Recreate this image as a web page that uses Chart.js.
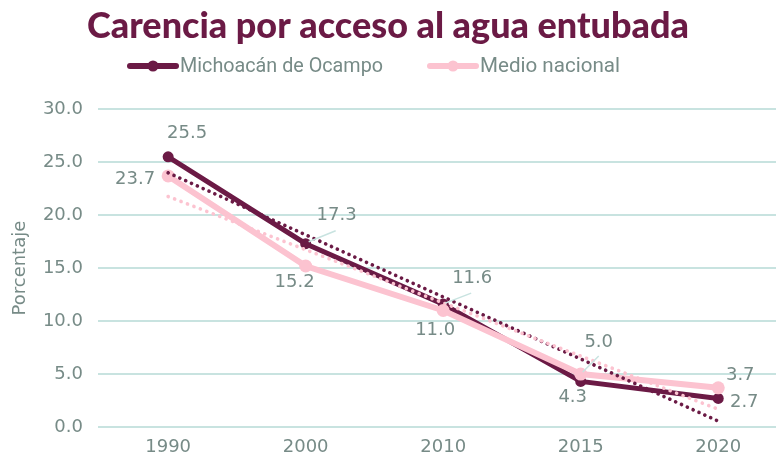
<!DOCTYPE html>
<html>
<head>
<meta charset="utf-8">
<script src="https://cdn.jsdelivr.net/npm/chart.js@4.4.1/dist/chart.umd.min.js"></script>
<style>
  body { margin: 0; background: #fff; }
  #wrap { width: 776px; height: 458px; }
</style>
</head>
<body>
<div id="wrap"><canvas id="chart" width="776" height="458"></canvas></div>
<script>
// ---- data ----
var years = ['1990', '2000', '2010', '2015', '2020']
var michoacan = [25.5, 17.3, 11.6, 4.3, 2.7]
var nacional = [23.7, 15.2, 11.0, 5.0, 3.7]
var seriesNames = ['Michoacán de Ocampo', 'Medio nacional']
var yMin = 0
var yMax = 30
var yStep = 5

// ---- look ----
var maroon = '#6b1a45'
var pink = '#fcc3d0'
var grey = '#778b87'
var gridTeal = '#c8e3e0'
var textFont = 'DejaVu Sans'

// years sit on an index axis so the plot can run past the right edge like the original
function points(values) {
  return values.map(function (v, i) { return { x: i, y: v } })
}

// linear trendline over the category index, like the spreadsheet one
function trend(values) {
  var n = values.length, sx = 0, sy = 0, sxy = 0, sxx = 0
  for (var i = 0; i < n; i++) {
    sx += i; sy += values[i]; sxy += i * values[i]; sxx += i * i
  }
  var slope = (n * sxy - sx * sy) / (n * sxx - sx * sx)
  var icpt = (sy - slope * sx) / n
  return values.map(function (v, i) { return { x: i, y: icpt + slope * i } })
}

// label offsets from the point (px) and optional leader line
var labelPlace = [
  [ { dx: 19, dy: -24 }, { dx: 31, dy: -28, lead: [3, -2, 30, -13] }, { dx: 29, dy: -26, lead: [2, -1, 28, -11] },
    { dx: -8, dy: 16 }, { dx: 26, dy: 4 } ],
  [ { dx: -33, dy: 3 }, { dx: -11, dy: 16 }, { dx: -8, dy: 20 },
    { dx: 18, dy: -32, lead: [2, -2, 18, -18] }, { dx: 22, dy: -12 } ]
]
var labelValues = [michoacan, nacional]

var dataLabels = {
  id: 'dataLabels',
  afterDatasetsDraw: function (chart) {
    var ctx = chart.ctx
    ctx.save()
    ctx.font = '18px "' + textFont + '"'
    ctx.fillStyle = grey
    ctx.textAlign = 'center'
    ctx.textBaseline = 'middle'
    for (var d = 0; d < 2; d++) {
      var meta = chart.getDatasetMeta(d)
      meta.data.forEach(function (pt, i) {
        var p = labelPlace[d][i]
        if (p.lead) {
          ctx.strokeStyle = gridTeal
          ctx.lineWidth = 1.5
          ctx.beginPath()
          ctx.moveTo(pt.x + p.lead[0], pt.y + p.lead[1])
          ctx.lineTo(pt.x + p.lead[2], pt.y + p.lead[3])
          ctx.stroke()
        }
        ctx.fillText(labelValues[d][i].toFixed(1), pt.x + p.dx, pt.y + p.dy)
      })
    }
    ctx.restore()
  }
}

// legend: thick line with a dot, as in the original
var lineLegend = {
  id: 'lineLegend',
  afterDraw: function (chart) {
    var ctx = chart.ctx
    var items = [
      { x: 130, color: maroon, text: seriesNames[0], w: 203 },
      { x: 430, color: pink, text: seriesNames[1], w: 140 }
    ]
    var y = 66
    ctx.save()
    items.forEach(function (it) {
      ctx.strokeStyle = it.color
      ctx.fillStyle = it.color
      ctx.lineWidth = 6
      ctx.lineCap = 'round'
      ctx.beginPath()
      ctx.moveTo(it.x, y)
      ctx.lineTo(it.x + 46, y)
      ctx.stroke()
      ctx.beginPath()
      ctx.arc(it.x + 23, y, 5.5, 0, Math.PI * 2)
      ctx.fill()
      // the original legend font is a narrow one, so squeeze Roboto a bit
      ctx.font = '21px Roboto'
      ctx.fillStyle = grey
      ctx.textAlign = 'left'
      ctx.textBaseline = 'middle'
      var k = it.w / ctx.measureText(it.text).width
      ctx.save()
      ctx.translate(it.x + 50, y + 1)
      ctx.scale(k, 1)
      ctx.fillText(it.text, 0, 0)
      ctx.restore()
    })
    ctx.restore()
  }
}

var ctx = document.getElementById('chart').getContext('2d')
var chart = new Chart(ctx, {
  type: 'line',
  data: {
    datasets: [
      {
        label: seriesNames[0],
        data: points(michoacan),
        borderColor: maroon,
        backgroundColor: maroon,
        borderWidth: 5,
        pointRadius: 5.5,
        pointHoverRadius: 5.5,
        pointBorderWidth: 0,
        order: 4
      },
      {
        label: seriesNames[1],
        data: points(nacional),
        borderColor: pink,
        backgroundColor: pink,
        borderWidth: 6,
        pointRadius: 6.5,
        pointHoverRadius: 6.5,
        pointBorderWidth: 0,
        order: 3
      },
      {
        label: 'Lineal (' + seriesNames[0] + ')',
        data: trend(michoacan),
        borderColor: maroon,
        borderWidth: 3.6,
        borderDash: [0.1, 6.3],
        borderCapStyle: 'round',
        pointRadius: 0,
        order: 2
      },
      {
        label: 'Lineal (' + seriesNames[1] + ')',
        data: trend(nacional),
        borderColor: pink,
        borderWidth: 3.6,
        borderDash: [0.1, 6.8],
        borderCapStyle: 'round',
        pointRadius: 0,
        order: 1
      }
    ]
  },
  options: {
    responsive: false,
    animation: false,
    layout: { padding: 0, autoPadding: false },
    plugins: {
      legend: { display: false },
      tooltip: { enabled: false },
      title: {
        display: true,
        text: 'Carencia por acceso al agua entubada',
        color: maroon,
        font: { family: 'Lato', weight: '900', size: 36 },
        padding: { top: 5, bottom: 61 }
      }
    },
    scales: {
      x: {
        type: 'linear',
        min: -0.51,
        max: 4.42,
        grid: { display: false },
        border: { display: false },
        ticks: {
          color: grey,
          font: { family: textFont, size: 18 },
          padding: 2,
          callback: function (v) { return years[v] }
        },
        afterBuildTicks: function (scale) {
          scale.ticks = years.map(function (y, i) { return { value: i } })
        },
        afterFit: function (scale) { scale.height = 31 }
      },
      y: {
        min: yMin,
        max: yMax,
        border: { display: false },
        grid: { color: gridTeal, lineWidth: 2, drawTicks: false },
        ticks: {
          stepSize: yStep,
          color: grey,
          padding: 15,
          font: { family: textFont, size: 18 },
          callback: function (v) { return v.toFixed(1) }
        },
        title: {
          display: true,
          text: 'Porcentaje',
          color: grey,
          font: { family: textFont, size: 18 },
          padding: { top: 10, bottom: 2 }
        },
        afterFit: function (scale) { scale.width = 98 }
      }
    }
  },
  plugins: [dataLabels, lineLegend]
})
</script>
</body>
</html>
